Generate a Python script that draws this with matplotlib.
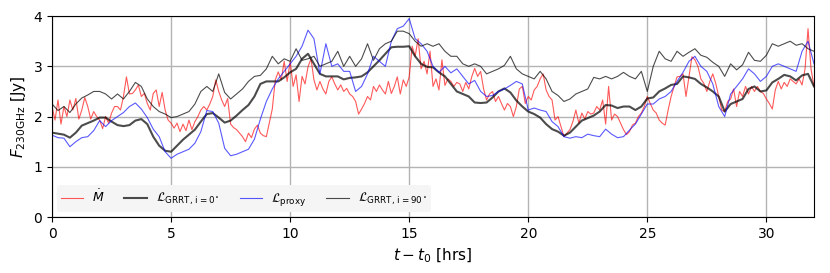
import numpy as np
import matplotlib
matplotlib.use("Agg")
import matplotlib.pyplot as plt

# time axes, hours since t0
t = np.arange(0, 32.01, 0.25)       # GRRT + proxy curves
t_red = np.arange(0, 32.001, 0.125)  # Mdot is noisier, read finer

# accretion rate Mdot (scaled), red
mdot = [2.20, 1.93, 2.33, 1.85, 2.2, 2.0, 2.33, 2.13, 2.36, 1.95, 2.13, 2.38, 2.2, 1.95, 2.1, 2.0,
        1.93, 1.76, 2.0, 1.87, 2.07, 2.2, 2.2, 2.13, 2.4, 2.79, 2.45, 2.46, 2.53, 2.63, 2.4, 2.46,
        2.26, 2.13, 2.46, 2.53, 2.2, 2.48, 2.13, 1.93, 1.87, 1.77, 1.87,
        # 5.375 - 10.5
        1.7, 1.85, 1.72, 1.93, 1.74, 1.9, 2.0, 2.13, 2.2, 2.13, 2.25, 2.4, 2.73, 2.5, 2.33, 2.2,
        2.36, 1.85, 1.78, 1.74, 1.67, 1.6, 1.5, 1.67, 1.58, 1.75, 1.83, 1.67, 1.62, 1.6, 1.87, 2.15,
        2.73, 2.89, 2.73, 3.1, 2.7, 3.1, 2.6, 2.83, 2.3, 2.8,
        # 10.625 - 15.75
        2.65, 2.99, 3.15, 2.73, 2.53, 2.7, 2.55, 2.45, 2.7, 2.79, 2.65, 2.53, 2.63, 2.5, 2.56, 2.45,
        2.4, 2.3, 2.05, 2.15, 2.26, 2.4, 2.33, 2.6, 2.5, 2.63, 2.53, 2.45, 2.7, 2.46, 2.6, 2.79,
        2.45, 2.73, 2.6, 2.79, 3.4, 3.2, 3.55, 2.95, 3.1, 2.85,
        # 15.875 - 21.0
        3.3, 2.6, 2.75, 2.53, 3.13, 2.62, 2.75, 2.7, 2.6, 2.68, 2.65, 2.5, 2.68, 2.55, 2.79, 2.96,
        2.8, 2.9, 2.55, 2.33, 2.45, 2.5, 2.3, 2.4, 2.26, 2.13, 2.26, 2.2, 2.0, 2.2, 2.55, 2.6,
        2.26, 2.4, 2.33, 2.53, 2.6, 2.75, 2.85, 2.53, 2.4, 2.33,
        # 21.125 - 26.25
        1.93, 2.0, 1.8, 1.6, 1.67, 1.74, 1.9, 2.13, 1.87, 2.07, 1.95, 2.1, 2.05, 2.07, 2.2, 2.13,
        2.33, 1.85, 2.6, 1.93, 2.05, 2.0, 1.87, 1.74, 1.64, 1.7, 1.83, 1.87, 2.0, 2.07, 2.2, 2.4,
        2.26, 2.13, 2.07, 1.93, 1.87, 1.83, 2.13, 2.4, 2.6, 2.79,
        # 26.375 - 32
        2.8, 2.85, 2.4, 2.79, 3.19, 3.13, 3.0, 2.75, 2.66, 2.5, 2.7, 2.85, 2.66, 2.4, 2.13, 2.1,
        2.3, 2.35, 2.55, 2.2, 2.5, 2.4, 2.6, 2.45, 2.6, 2.5, 2.6, 2.5, 2.46, 2.35, 2.26, 2.15,
        2.53, 2.7, 2.55, 2.68, 2.6, 2.75, 2.7, 2.65, 2.75, 2.63, 2.95, 3.75, 2.95, 2.6]

# GRRT light curve, i = 0 deg (thick)
grrt0 = [1.68, 1.66, 1.64, 1.58, 1.68, 1.82, 1.87, 1.92, 1.98, 1.98, 1.9, 1.83, 1.81, 1.83, 1.92, 1.95,
         1.85, 1.6, 1.42, 1.32, 1.3, 1.42, 1.54, 1.64, 1.74, 1.9, 2.05, 2.07, 1.98, 1.88, 1.92, 2.02,
         2.13, 2.23, 2.4, 2.65, 2.7, 2.7, 2.7, 2.78, 2.88, 2.95, 3.15, 3.25, 3.05, 2.85, 2.8, 2.8,
         2.8, 2.74, 2.77, 2.78, 2.8, 2.88, 3.0, 3.12, 3.25, 3.38, 3.39, 3.39, 3.4, 3.2, 3.05, 2.99,
         2.98, 2.88, 2.8, 2.65, 2.5, 2.45, 2.4, 2.28, 2.27, 2.28, 2.38, 2.5, 2.56, 2.48, 2.32, 2.2,
         2.1, 2.05, 1.98, 1.85, 1.75, 1.7, 1.62, 1.68, 1.8, 1.92, 1.97, 2.02, 2.1, 2.23, 2.22, 2.17,
         2.2, 2.2, 2.13, 2.2, 2.36, 2.38, 2.5, 2.56, 2.63, 2.65, 2.8, 2.78, 2.75, 2.65, 2.58, 2.5,
         2.4, 2.1, 2.25, 2.3, 2.35, 2.55, 2.6, 2.5, 2.52, 2.68, 2.75, 2.83, 2.8, 2.72, 2.82, 2.85,
         2.6]

# proxy light curve, blue
proxy = [1.63, 1.58, 1.57, 1.4, 1.5, 1.58, 1.6, 1.72, 1.92, 1.8, 1.92, 2.0, 2.08, 2.2, 2.27, 2.15,
         1.98, 1.75, 1.6, 1.3, 1.17, 1.25, 1.3, 1.35, 1.47, 1.7, 2.12, 2.1, 1.87, 1.37, 1.22, 1.25,
         1.3, 1.35, 1.55, 1.95, 2.3, 2.55, 2.75, 2.9, 3.05, 3.2, 3.4, 3.72, 3.55, 2.85, 3.45, 3.0,
         3.05, 2.9, 2.9, 2.5, 2.6, 2.85, 3.2, 3.1, 3.0, 3.5, 3.75, 3.8, 3.95, 3.55, 3.45, 3.3,
         3.0, 2.88, 3.0, 2.87, 2.95, 2.8, 2.65, 2.72, 2.5, 2.4, 2.42, 2.5, 2.55, 2.62, 2.7, 2.65,
         2.13, 2.17, 2.13, 2.1, 1.9, 1.8, 1.6, 1.57, 1.6, 1.58, 1.65, 1.62, 1.6, 1.75, 1.65, 1.58,
         1.6, 1.73, 1.85, 2.05, 2.25, 2.25, 2.35, 2.4, 2.5, 2.7, 2.88, 3.1, 3.2, 3.0, 2.9, 2.65,
         2.2, 2.0, 2.45, 2.6, 2.75, 2.95, 2.85, 2.7, 2.8, 3.0, 3.05, 3.0, 2.95, 2.9, 3.3, 3.5,
         3.05]

# GRRT light curve, i = 90 deg (thin)
grrt90 = [2.25, 2.12, 2.2, 2.08, 2.25, 2.37, 2.43, 2.5, 2.5, 2.45, 2.35, 2.45, 2.35, 2.5, 2.68, 2.6,
          2.35, 2.2, 2.1, 2.05, 1.98, 2.0, 2.05, 2.1, 2.25, 2.5, 2.6, 2.5, 2.85, 2.48, 2.35, 2.45,
          2.55, 2.7, 2.8, 2.82, 2.95, 3.2, 3.05, 3.15, 3.1, 3.35, 3.12, 3.15, 3.2, 3.0, 3.05, 3.1,
          3.3, 3.0, 3.2, 3.0, 3.15, 3.45, 3.12, 3.35, 3.45, 3.5, 3.7, 3.7, 3.65, 3.5, 3.4, 3.45,
          3.4, 3.45, 3.3, 3.2, 3.2, 3.05, 3.0, 3.05, 3.0, 2.85, 2.9, 2.95, 3.02, 3.2, 2.95, 2.85,
          2.8, 2.75, 2.9, 2.75, 2.5, 2.42, 2.3, 2.35, 2.45, 2.5, 2.55, 2.78, 2.75, 2.8, 2.75, 2.8,
          2.88, 2.8, 2.75, 2.9, 2.5, 3.0, 3.3, 3.15, 3.1, 3.3, 3.2, 3.28, 3.35, 3.22, 3.18, 3.08,
          3.0, 2.8, 3.05, 2.93, 3.03, 3.28, 3.12, 3.1, 3.22, 3.45, 3.4, 3.45, 3.5, 3.42, 3.45, 3.35,
          3.3]

assert len(mdot) == len(t_red)

fig = plt.figure(figsize=(8.3, 2.73), dpi=100)
ax = fig.add_axes([0.0627, 0.205, 0.918, 0.736])

ax.plot(t_red, mdot, color='red', lw=0.8, alpha=0.65, label=r'$\dot{M}$')
ax.plot(t, grrt0, color='black', lw=1.5, alpha=0.7, label=r'$\mathcal{L}_{\rm GRRT,\,i=0^\circ}$')
ax.plot(t, proxy, color='blue', lw=0.8, alpha=0.65, label=r'$\mathcal{L}_{\rm proxy}$')
ax.plot(t, grrt90, color='black', lw=0.8, alpha=0.7, label=r'$\mathcal{L}_{\rm GRRT,\,i=90^\circ}$')

ax.set_xlim(0, 32)
ax.set_ylim(0, 4)
ax.set_xticks([0, 5, 10, 15, 20, 25, 30])
ax.set_yticks([0, 1, 2, 3, 4])
ax.tick_params(labelsize=10)
ax.grid(True, color='0.7', lw=1)
ax.set_axisbelow(True)
ax.set_xlabel(r'$t - t_0$ [hrs]', fontsize=11)
ax.set_ylabel(r'$F_{\rm 230GHz}$ [Jy]', fontsize=11)

leg = ax.legend(loc='lower left', ncol=4, fontsize=9, frameon=True, facecolor='0.96',
                edgecolor='none', framealpha=1.0, bbox_to_anchor=(0.0, 0.0),
                borderaxespad=0.4, borderpad=0.3, handlelength=1.8, handletextpad=0.7,
                columnspacing=1.6)

fig.savefig('out.png', dpi=100)
